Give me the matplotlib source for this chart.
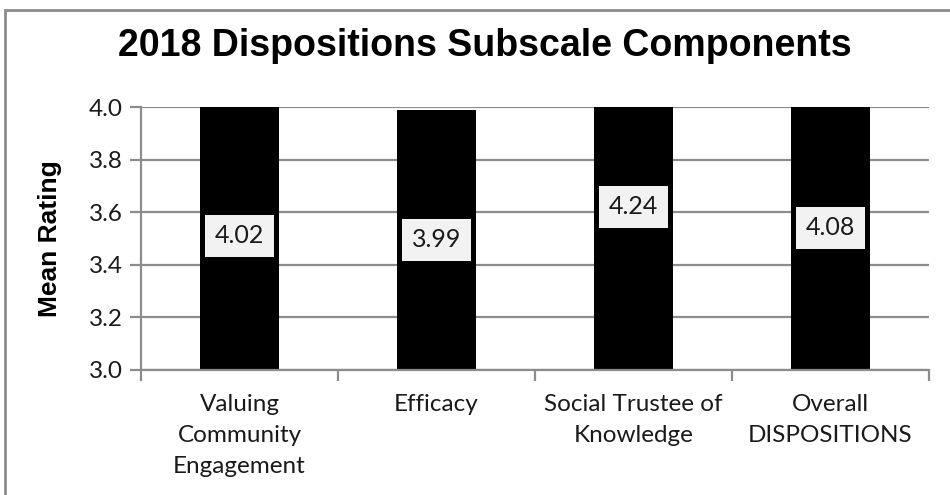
import matplotlib
matplotlib.use("Agg")
import matplotlib.pyplot as plt
from matplotlib.patches import Rectangle
import numpy as np

categories = ["Valuing\nCommunity\nEngagement", "Efficacy", "Social Trustee of\nKnowledge", "Overall\nDISPOSITIONS"]
values = [4.02, 3.99, 4.24, 4.08]
yticks = [3.0, 3.2, 3.4, 3.6, 3.8, 4.0]
title = "2018 Dispositions Subscale Components"
ylabel = "Mean Rating"

W, H = 950, 495
fig = plt.figure(figsize=(W / 100, H / 100), dpi=100)
ax = fig.add_axes([141 / W, 1 - 370 / H, (929 - 141) / W, (370 - 107) / H])

grid_c = "#8c8c8c"
x = np.arange(len(categories))
ax.set_ylim(3.0, 4.0)
ax.set_xlim(-0.5, len(categories) - 0.5)
ax.set_yticks(yticks)
ax.set_yticklabels([f"{t:.1f}" for t in yticks], fontsize=17.5, family="Lato", color="#1a1a1a")
for t in yticks:
    ax.axhline(t, color=grid_c, lw=1.6, zorder=0)
ax.bar(x, values, width=0.4, color="black", zorder=2)

# category ticks at boundaries
ax.set_xticks(np.arange(len(categories) + 1) - 0.5)
ax.set_xticklabels([])
ax.set_xticks(x, minor=True)
ax.set_xticklabels(categories, minor=True, fontsize=17.5, family="Lato", color="#1a1a1a", linespacing=1.6, va="top")
ax.tick_params(axis="x", which="minor", length=0, pad=17)
ax.tick_params(axis="x", which="major", length=8, width=1.6, color=grid_c, direction="out")
ax.tick_params(axis="y", length=8, width=1.6, color=grid_c, direction="out", pad=5)

for s in ["top", "right"]:
    ax.spines[s].set_visible(False)
for s in ["left", "bottom"]:
    ax.spines[s].set_color(grid_c)
    ax.spines[s].set_linewidth(1.6)

for xi, v in zip(x, values):
    ymid = (3.0 + v) / 2
    ax.text(xi, ymid, f"{v:.2f}", ha="center", va="center", fontsize=18, family="Lato",
            color="#1a1a1a", zorder=3,
            bbox=dict(boxstyle="square,pad=0.38", fc="#f2f2f2", ec="none"))

ax.set_ylabel(ylabel, fontsize=19, fontweight="bold", family="Liberation Sans", va="center")
ax.yaxis.set_label_coords((50 - 141) / 788, 0.5)

fig.text(485 / W, 1 - 46 / H, title, ha="center", va="center", fontsize=27,
         fontweight="bold", family="Liberation Sans")

# outer chart border
fig.patches.append(Rectangle((5 / W, -0.1), 1.2, 1 - 10 / H + 0.1, transform=fig.transFigure,
                             fill=False, ec="#8c8c8c", lw=2))

fig.savefig("out.png", dpi=100)
